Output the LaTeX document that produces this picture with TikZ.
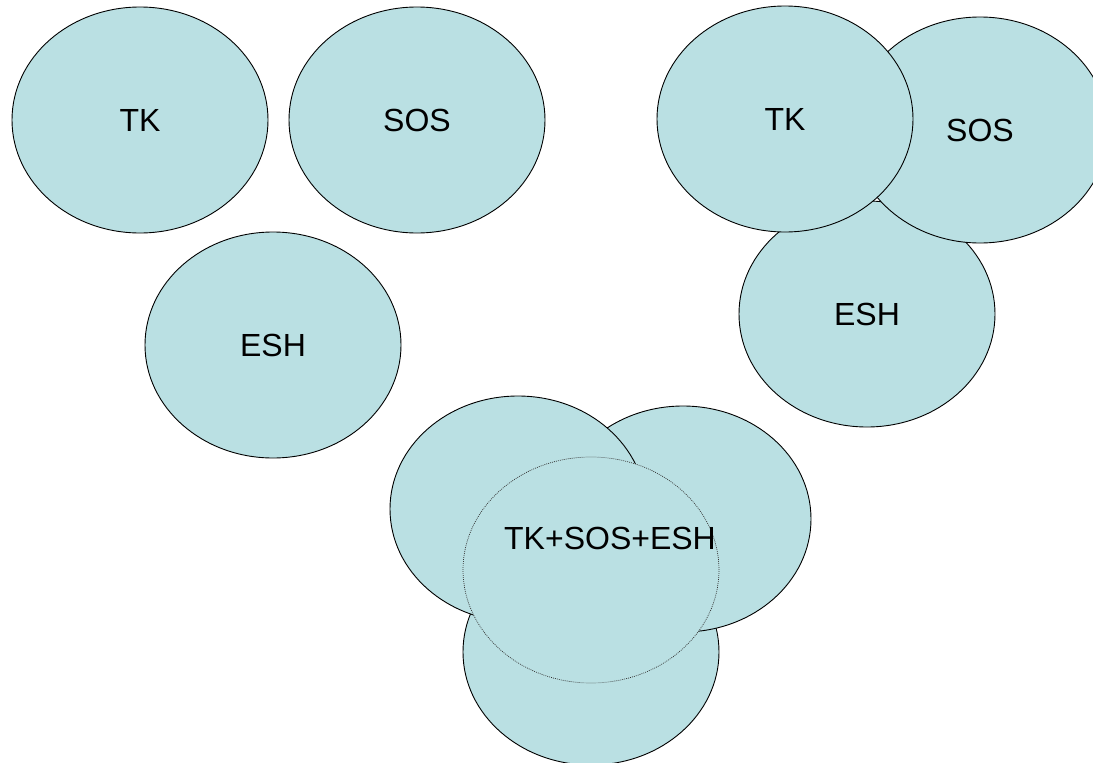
\documentclass[tikz,border=0pt]{standalone}
\usepackage{fontspec}
\setmainfont{Liberation Sans}
\usetikzlibrary{shapes.geometric}
\definecolor{blobfill}{RGB}{186,224,227}
\tikzset{
  blob/.style={ellipse, draw=black, line width=0.9pt, fill=blobfill,
    minimum width=256pt, minimum height=226pt, inner sep=0pt,
    font=\fontsize{32}{38}\selectfont},
  dotblob/.style={ellipse, draw=black!80, line width=0.7pt, dash pattern=on 0.9pt off 1.1pt, fill=blobfill,
    minimum width=256pt, minimum height=226pt, inner sep=0pt},
  lbl/.style={inner sep=0pt, font=\fontsize{32}{38}\selectfont}
}
\begin{document}
\begin{tikzpicture}[x=1pt,y=-1pt]
\useasboundingbox (0,0) rectangle (1093,763);
\clip (0,0) rectangle (1093,763);
% top-left group
\node[blob] (tk1) at (140,120) {TK};
\node[blob] (sos1) at (417,120) {SOS};
\node[blob] (esh1) at (273,345) {ESH};
% top-right group
\node[blob] (esh2) at (867,314) {ESH};
\node[blob] (sos2) at (980,130) {SOS};
\node[blob] (tk2) at (785,119) {TK};
% bottom group
\node[blob] (bot) at (591,652) {};
\node[blob] (rgt) at (683,519) {};
\node[blob] (lft) at (518,509) {};
\node[dotblob] (mid) at (591,570) {};
\node[lbl] (all) at (610,538) {TK+SOS+ESH};
\end{tikzpicture}
\end{document}
